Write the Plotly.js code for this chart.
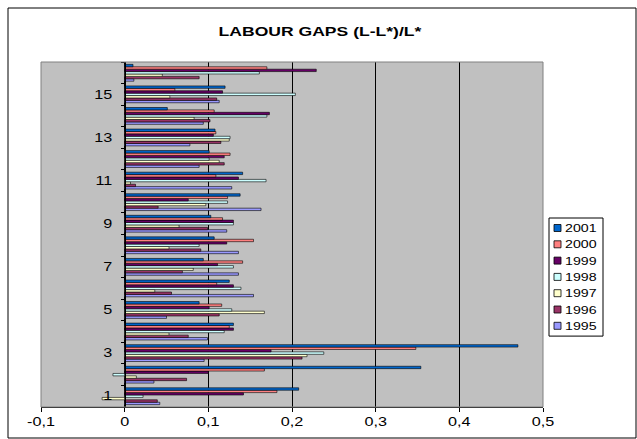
<!DOCTYPE html>
<html>
<head>
<meta charset="utf-8">
<script src="https://cdn.plot.ly/plotly-3.0.1.min.js"></script>
<style>
  html, body { margin: 0; padding: 0; background: #fff; }
  #chart { width: 637px; height: 439px; }
</style>
</head>
<body>
<div id="chart"></div>
<script>
// Labour gaps (L-L*)/L* by region, 1995-2001
const categories = [1, 2, 3, 4, 5, 6, 7, 8, 9, 10, 11, 12, 13, 14, 15, 16];
const years = ['1995', '1996', '1997', '1998', '1999', '2000', '2001'];

const gap1995 = [0.042, 0.035, 0.095, 0.099, 0.050, 0.154, 0.136, 0.136, 0.122, 0.163, 0.128, 0.089, 0.078, 0.094, 0.113, 0.011];
const gap1996 = [0.039, 0.074, 0.212, 0.076, 0.113, 0.056, 0.069, 0.091, 0.099, 0.040, 0.013, 0.119, 0.115, 0.102, 0.110, 0.089];
const gap1997 = [-0.027, 0.014, 0.218, 0.053, 0.167, 0.036, 0.082, 0.053, 0.065, 0.097, 0.007, 0.113, 0.125, 0.083, 0.054, 0.045];
const gap1998 = [0.022, -0.014, 0.238, 0.119, 0.128, 0.139, 0.130, 0.089, 0.130, 0.123, 0.169, 0.101, 0.126, 0.170, 0.204, 0.161];
const gap1999 = [0.142, 0.100, 0.175, 0.130, 0.101, 0.130, 0.111, 0.122, 0.130, 0.076, 0.136, 0.119, 0.106, 0.173, 0.117, 0.229];
const gap2000 = [0.182, 0.167, 0.348, 0.125, 0.116, 0.110, 0.141, 0.154, 0.117, 0.123, 0.109, 0.126, 0.109, 0.107, 0.060, 0.170];
const gap2001 = [0.208, 0.354, 0.470, 0.130, 0.089, 0.125, 0.094, 0.107, 0.103, 0.138, 0.141, 0.101, 0.108, 0.051, 0.120, 0.010];

const xTickVals = [-0.1, 0, 0.1, 0.2, 0.3, 0.4, 0.5];
const xTickText = ['-0,1', '0', '0,1', '0,2', '0,3', '0,4', '0,5'];
const yTickVals = [1, 3, 5, 7, 9, 11, 13, 15];
const yTickText = ['1', '3', '5', '7', '9', '11', '13', '15'];

const series = [gap1995, gap1996, gap1997, gap1998, gap1999, gap2000, gap2001];
const colors = ['#9999FF', '#993366', '#FFFFCC', '#CCFFFF', '#660066', '#FF8080', '#0066CC'];

const FONT = 'Liberation Sans, Arial, sans-serif';
const TEXT_STRETCH = 1.35;   // wide lettering, as in the printed figure

const traces = series.map((vals, i) => ({
  type: 'bar',
  orientation: 'h',
  name: years[i],
  x: vals,
  y: categories,
  marker: { color: colors[i], line: { color: '#000', width: 0.6 } },
  hoverinfo: 'skip'
}));

// plot-area geometry in pixels (used to place frame and legend)
const W = 637, H = 439;
const M = { l: 41, r: 94, t: 62, b: 32 };
const PW = W - M.l - M.r, PH = H - M.t - M.b;
const px = v => (v - M.l) / PW;
const py = v => (H - M.b - v) / PH;

const shapes = [
  // outer chart frame
  { type: 'rect', xref: 'paper', yref: 'paper', x0: px(8), x1: px(636), y0: py(438), y1: py(8),
    line: { color: '#000', width: 1 }, layer: 'below' },
  // plot-area border
  { type: 'rect', xref: 'paper', yref: 'paper', x0: 0, x1: 1, y0: 0, y1: 1,
    line: { color: '#808080', width: 1 }, layer: 'above' }
];
const annotations = [];

// legend box, newest year on top
const legL = 549, legT = 218, legR = 603, rowH = 16.3;
shapes.push({ type: 'rect', xref: 'paper', yref: 'paper', x0: px(legL), x1: px(legR),
  y0: py(legT + rowH * years.length + 4), y1: py(legT),
  line: { color: '#000', width: 1 }, fillcolor: '#fff', layer: 'above' });
years.slice().reverse().forEach((yr, k) => {
  const cy = legT + 10 + rowH * k;
  const idx = years.length - 1 - k;
  shapes.push({ type: 'rect', xref: 'paper', yref: 'paper',
    x0: px(legL + 5), x1: px(legL + 12), y0: py(cy + 3.5), y1: py(cy - 3.5),
    line: { color: '#000', width: 0.8 }, fillcolor: colors[idx], layer: 'above' });
  annotations.push({ xref: 'paper', yref: 'paper', x: px(legL + 15), y: py(cy),
    xanchor: 'left', yanchor: 'middle', align: 'left', showarrow: false, text: yr,
    borderpad: 0,
    font: { family: FONT, size: 10.5, color: '#000' } });
});

const layout = {
  width: W, height: H,
  margin: M,
  paper_bgcolor: '#fff',
  plot_bgcolor: '#C0C0C0',
  showlegend: false,
  barmode: 'group',
  bargap: 0.22,
  bargroupgap: 0,
  title: {
    text: '<b>LABOUR GAPS (L-L*)/L*</b>',
    x: 320 / W, xanchor: 'center', xref: 'container',
    y: 1 - 31 / H, yanchor: 'middle', yref: 'container',
    font: { family: FONT, size: 13, color: '#000' }
  },
  xaxis: {
    range: [-0.1, 0.5],
    tickvals: xTickVals, ticktext: xTickText,
    ticks: 'outside', ticklen: 4, tickcolor: '#000',
    showline: true, linecolor: '#000', linewidth: 1,
    showgrid: true, gridcolor: '#000', gridwidth: 1,
    zeroline: true, zerolinecolor: '#000', zerolinewidth: 1,
    tickfont: { family: FONT, size: 12, color: '#000' },
    fixedrange: true
  },
  yaxis: {
    range: [0.5, 16.5],
    anchor: 'free', position: 0.1 / 0.6,
    tickvals: yTickVals, ticktext: yTickText,
    ticks: 'outside', ticklen: 4, tickcolor: 'rgba(0,0,0,0)',
    ticklabelstandoff: 6,
    minor: { ticks: 'outside', ticklen: 4, tickcolor: '#000', tick0: 0.5, dtick: 1, showgrid: false },
    showline: true, linecolor: '#000', linewidth: 1,
    showgrid: false, zeroline: false,
    tickfont: { family: FONT, size: 12, color: '#000' },
    fixedrange: true
  },
  shapes: shapes,
  annotations: annotations
};

Plotly.newPlot('chart', traces, layout, { displayModeBar: false, staticPlot: true }).then(gd => {
  // widen every label horizontally about its own anchor point
  gd.querySelectorAll('svg text').forEach(el => {
    const x = parseFloat(el.getAttribute('x')) || 0;
    const t = el.getAttribute('transform') || '';
    el.setAttribute('transform',
      `${t} translate(${x},0) scale(${TEXT_STRETCH},1) translate(${-x},0)`.trim());
  });
});
</script>
</body>
</html>
